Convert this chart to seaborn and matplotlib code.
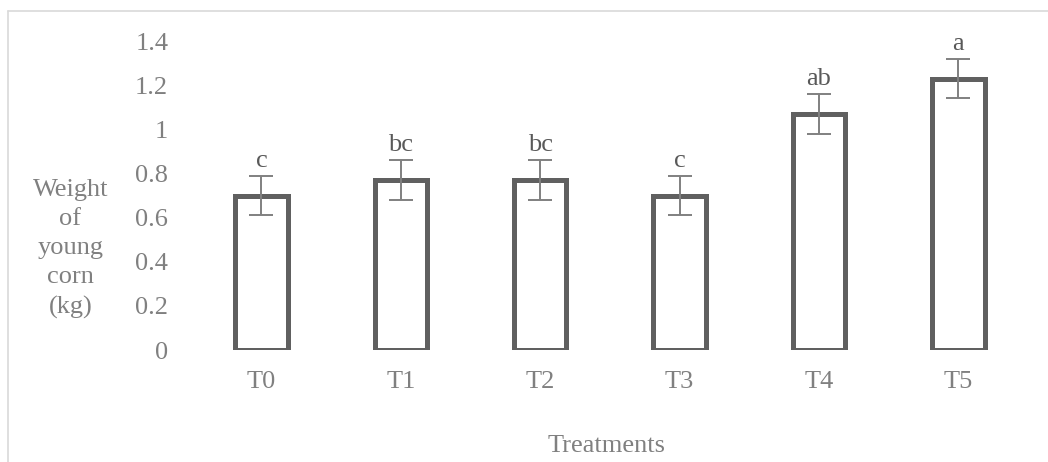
import matplotlib
matplotlib.use("Agg")
import matplotlib.pyplot as plt
from matplotlib.lines import Line2D
import seaborn as sns
import pandas as pd

categories = ["T0", "T1", "T2", "T3", "T4", "T5"]
weights = [0.70, 0.77, 0.77, 0.70, 1.07, 1.23]
errors = [0.09, 0.09, 0.09, 0.09, 0.09, 0.09]
letters = ["c", "bc", "bc", "c", "ab", "a"]
yticks = [0, 0.2, 0.4, 0.6, 0.8, 1.0, 1.2, 1.4]
ytick_labels = ["0", "0.2", "0.4", "0.6", "0.8", "1", "1.2", "1.4"]

sns.set_theme(style="white")
plt.rcParams['font.family'] = ['Liberation Serif', 'DejaVu Serif']

FS = 19

df = pd.DataFrame({"Treatment": categories, "Weight": weights})

fig = plt.figure(figsize=(10.48, 4.62), dpi=100)
ax = fig.add_axes([0.183, 0.2424, 0.798, 0.6686])

sns.barplot(data=df, x="Treatment", y="Weight", color="white",
            edgecolor="#606060", linewidth=3.6, width=0.375,
            errorbar=None, ax=ax, zorder=2)

xs = list(range(len(categories)))
ax.errorbar(xs, weights, yerr=errors, fmt="none", ecolor="#808080",
            elinewidth=1.4, capsize=8.5, capthick=1.4, zorder=3)

for x, v, e, l in zip(xs, weights, errors, letters):
    ax.annotate(l, (x, v + e), xytext=(0, 6.5), textcoords="offset points",
                ha="center", va="baseline", fontsize=FS, color="#595959")

ax.set_ylim(0, 1.4)
ax.set_xlim(-0.5, len(categories) - 0.5)
ax.set_yticks(yticks)
ax.set_yticklabels(ytick_labels)
ax.tick_params(axis="y", length=0, pad=17, labelsize=FS, labelcolor="#808080")
ax.tick_params(axis="x", length=0, pad=15, labelsize=FS, labelcolor="#808080")
ax.set_xlabel("")
ax.set_ylabel("")
for s in ax.spines.values():
    s.set_visible(False)
ax.grid(False)

fig.text(0.0672, 0.461, "Weight\nof\nyoung\ncorn\n(kg)", ha="center", va="center",
         fontsize=FS, color="#808080", linespacing=1.42)
fig.text(0.579, 0.0216, "Treatments", ha="center", va="baseline",
         fontsize=FS, color="#808080")

fig.add_artist(Line2D([0.0076, 1.0], [0.976, 0.976], color="#d9d9d9", lw=1.2,
                      transform=fig.transFigure))
fig.add_artist(Line2D([0.0076, 0.0076], [0.0, 0.976], color="#d9d9d9", lw=1.2,
                      transform=fig.transFigure))

fig.savefig("out.png", dpi=100, facecolor="white")
